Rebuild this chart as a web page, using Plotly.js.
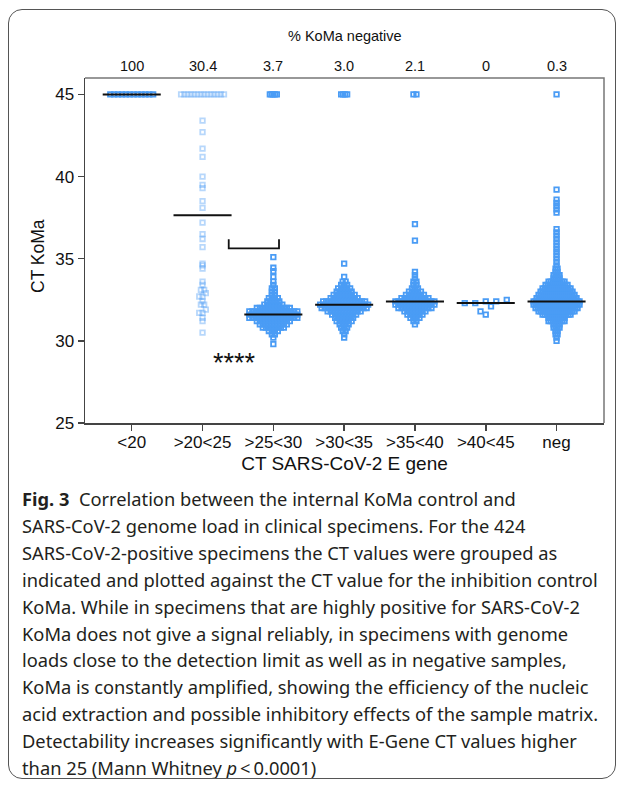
<!DOCTYPE html>
<html>
<head>
<meta charset="utf-8">
<script src="https://cdn.plot.ly/plotly-3.0.1.min.js"></script>
<style>
  html, body { margin: 0; padding: 0; background: #ffffff; }
  #chart { width: 624px; height: 787px; }
  #frame { position: absolute; left: 8px; top: 9px; width: 608px; height: 770px;
           border: 1.5px solid #555; border-radius: 14px; pointer-events: none; box-sizing: border-box; }
</style>
</head>
<body>
<div id="chart"></div>
<div id="frame"></div>
<script>
// ---------------- DATA ----------------
const categories = ['<20', '>20<25', '>25<30', '>30<35', '>35<40', '>40<45', 'neg'];
const pctKoMaNegative = ['100', '30.4', '3.7', '3.0', '2.1', '0', '0.3'];

// KoMa CT levels per E-gene group and the number of specimens at each level
const lt20_ct = [45];
const lt20_n  = [12];

const g20_25_ct = [45, 43.4, 42.7, 41.7, 41.2, 40.0, 39.5, 39.3, 38.5, 38.1,
                   37.2, 36.5, 36.2, 35.7, 34.7, 34.6, 34.4, 33.6, 33.4, 33.1, 32.9,
                   32.7, 32.4, 32.2, 31.9, 31.7, 31.4, 31.2, 30.5];
const g20_25_n  = [14, 1, 1, 1, 1, 1, 1, 1, 1, 1,
                   1, 1, 1, 1, 1, 1, 1, 1, 1, 2, 1,
                   2, 1, 2, 1, 2, 1, 1, 1];

const g25_30_ct = [45, 35.1, 34.45, 34.25, 33.9, 33.6, 33.4, 33.2, 33.0, 32.8, 32.6, 32.4,
                   32.2, 32.0, 31.8, 31.6, 31.4, 31.2, 31.0, 30.8, 30.6, 30.4, 30.2, 29.8];
const g25_30_n  = [5, 1, 1, 1, 1, 1, 1, 2, 2, 2, 4, 5,
                   7, 12, 17, 17, 17, 12, 10, 8, 4, 2, 1, 1];

const g30_35_ct = [45, 34.7, 33.9, 33.6, 33.4, 33.2, 33.0, 32.8, 32.6, 32.4, 32.2,
                   32.0, 31.8, 31.6, 31.4, 31.2, 31.0, 30.8, 30.6, 30.4, 30.2];
const g30_35_n  = [4, 1, 1, 2, 3, 5, 6, 8, 10, 15, 17,
                   16, 12, 9, 7, 6, 4, 3, 2, 1, 1];

const g35_40_ct = [45, 37.1, 36.1, 34.2, 34.0, 33.8, 33.6, 33.4, 33.2, 33.0, 32.8,
                   32.6, 32.4, 32.2, 32.0, 31.8, 31.6, 31.4, 31.2, 31.0];
const g35_40_n  = [2, 1, 1, 1, 1, 1, 2, 2, 3, 5, 7,
                   10, 14, 14, 12, 8, 6, 4, 2, 1];

const g40_45_ct = [32.5, 32.4, 32.3, 32.1, 31.8, 31.6];
const g40_45_n  = [1, 2, 2, 1, 1, 1];

const neg_ct = [45, 39.2, 38.6, 38.4, 38.2, 38.0, 37.8, 36.8, 36.6, 36.4, 36.2, 36.0,
                35.8, 35.6, 35.4, 35.2, 35.0, 34.8, 34.6, 34.4, 34.2, 34.0, 33.8,
                33.6, 33.4, 33.2, 33.0, 32.8, 32.6, 32.4, 32.2, 32.0, 31.8, 31.6,
                31.4, 31.2, 31.0, 30.8, 30.6, 30.4, 30.2, 30.0];
const neg_n  = [1, 1, 1, 1, 1, 1, 1, 1, 1, 1, 1, 1,
                1, 1, 1, 1, 1, 1, 1, 2, 2, 4, 4,
                9, 12, 15, 17, 19, 21, 24, 24, 22, 19, 15,
                9, 9, 4, 4, 2, 2, 1, 1];

const yTicks = [25, 30, 35, 40, 45];
const noSignalCT = 45;

// ---------------- STYLE ----------------
const M = { l: 85, r: 20, t: 78, b: 364 };
const W = 624, H = 787;
const plotW = W - M.l - M.r, plotH = H - M.t - M.b;
const xRange = [-0.66, 6.67];
const yRange = [25, 46];
const pxPerCat = plotW / (xRange[1] - xRange[0]);
const blue = '#4a9cf5';
const groupOpacity = [1, 0.4, 1, 1, 1, 1, 1];
const rowDxPx   = [3.9, 3.3, 3, 3, 3, 10.5, 2];     // horizontal spacing of points in a row
const row45DxPx = [3.9, 3.3, 1.75, 2, 3, 3, 3];     // spacing in the "no signal" row
const rowBin    = [0.2, 0.2, 0.2, 0.2, 0.2, 0.5, 0.2];
const medianHalfWidth = 0.41;
const axisFont = 'Liberation Sans, Arial, Helvetica, sans-serif';

// ---------------- BUILD ----------------
const groupsCT = [lt20_ct, g20_25_ct, g25_30_ct, g30_35_ct, g35_40_ct, g40_45_ct, neg_ct];
const groupsN  = [lt20_n, g20_25_n, g25_30_n, g30_35_n, g35_40_n, g40_45_n, neg_n];

function expand(levels, counts) {
  const out = [];
  levels.forEach((v, i) => { for (let k = 0; k < counts[i]; k++) out.push(v); });
  return out;
}
function median(arr) {
  const s = arr.slice().sort((a, b) => a - b);
  const n = s.length;
  return n % 2 ? s[(n - 1) / 2] : (s[n / 2 - 1] + s[n / 2]) / 2;
}
function swarm(vals, center, g) {
  const rows = new Map();
  vals.forEach(v => {
    const key = Math.round(v / rowBin[g]);
    if (!rows.has(key)) rows.set(key, []);
    rows.get(key).push(v);
  });
  const xs = [], ys = [];
  rows.forEach(arr => {
    arr.sort((a, b) => a - b);
    const k = arr.length;
    const d = (arr[0] === noSignalCT ? row45DxPx[g] : rowDxPx[g]) / pxPerCat;
    arr.forEach((v, j) => { xs.push(center + (j - (k - 1) / 2) * d); ys.push(v); });
  });
  return { xs, ys };
}

const traces = [];
const medX = [], medY = [];
groupsCT.forEach((levels, g) => {
  const vals = expand(levels, groupsN[g]);
  const s = swarm(vals, g, g);
  traces.push({
    type: 'scatter', mode: 'markers', x: s.xs, y: s.ys, hoverinfo: 'skip',
    cliponaxis: false, showlegend: false,
    marker: { symbol: 'square-open', size: 4.5, color: blue, opacity: groupOpacity[g],
              line: { width: 1.8, color: blue } }
  });
  const m = median(vals);
  medX.push(g - medianHalfWidth, g + medianHalfWidth, null);
  medY.push(m, m, null);
});
traces.push({
  type: 'scatter', mode: 'lines', x: medX, y: medY, hoverinfo: 'skip', showlegend: false,
  cliponaxis: false, line: { color: '#111', width: 2 }
});

function pyToPaper(py) { return (H - M.b - py) / plotH; }
function pxToPaper(px) { return (px - M.l) / plotW; }

const annotations = [];
annotations.push({ text: '% KoMa negative', xref: 'paper', yref: 'paper', x: 0.5, y: pyToPaper(36),
  xanchor: 'center', yanchor: 'middle', showarrow: false, font: { family: axisFont, size: 14.5, color: '#111' } });
pctKoMaNegative.forEach((t, i) => annotations.push({ text: t, xref: 'x', yref: 'paper', x: i, y: pyToPaper(66),
  xanchor: 'center', yanchor: 'middle', showarrow: false, font: { family: axisFont, size: 14.5, color: '#111' } }));
annotations.push({ text: '****', xref: 'x', yref: 'y', x: 1.445, y: 28.65, xanchor: 'center', yanchor: 'middle',
  showarrow: false, font: { family: axisFont, size: 27, color: '#111' } });
annotations.push({ text: 'CT KoMa', xref: 'paper', yref: 'paper', x: pxToPaper(38), y: pyToPaper(256),
  xanchor: 'center', yanchor: 'middle', textangle: -90, showarrow: false,
  font: { family: axisFont, size: 17.5, color: '#111' } });

const caption = [
  '<b>Fig. 3</b>\u00a0\u00a0Correlation between the internal KoMa control and',
  'SARS-CoV-2 genome load in clinical specimens. For the 424',
  'SARS-CoV-2-positive specimens the CT values were grouped as',
  'indicated and plotted against the CT value for the inhibition control',
  'KoMa. While in specimens that are highly positive for SARS-CoV-2',
  'KoMa does not give a signal reliably, in specimens with genome',
  'loads close to the detection limit as well as in negative samples,',
  'KoMa is constantly amplified, showing the efficiency of the nucleic',
  'acid extraction and possible inhibitory effects of the sample matrix.',
  'Detectability increases significantly with E-Gene CT values higher',
  'than 25 (Mann Whitney <i>p</i>\u2009<\u20090.0001)'
];
caption.forEach((t, i) => annotations.push({ text: t, xref: 'paper', yref: 'paper',
  x: pxToPaper(20), y: pyToPaper(499 + 26.8 * i), xanchor: 'left', yanchor: 'middle', showarrow: false,
  font: { family: 'Noto Sans, Open Sans, sans-serif', size: 18.3, color: '#231f20' } }));

const layout = {
  width: W, height: H, margin: M, paper_bgcolor: '#fff', plot_bgcolor: '#fff',
  font: { family: axisFont, color: '#111' },
  xaxis: {
    range: xRange, tickvals: categories.map((c, i) => i), ticktext: categories,
    showgrid: false, zeroline: false, showline: true, linecolor: '#444', linewidth: 1.5,
    ticks: 'outside', ticklen: 6, tickwidth: 1.5, tickcolor: '#444', ticklabelstandoff: -3,
    tickfont: { size: 17, family: axisFont, color: '#111' },
    title: { text: 'CT SARS-CoV-2 E gene', font: { size: 19, family: axisFont, color: '#111' }, standoff: 6 }
  },
  yaxis: {
    range: yRange, tickvals: yTicks, showgrid: false, zeroline: false, showline: true,
    linecolor: '#444', linewidth: 1.5, ticks: 'outside', ticklen: 6, tickwidth: 1.5, tickcolor: '#444',
    tickfont: { size: 17, family: axisFont, color: '#111' }
  },
  shapes: [
    { type: 'path', xref: 'paper', yref: 'paper', path: 'M 0 1 L 1 1 L 1 0', line: { color: '#777', width: 1.5 } },
    { type: 'path', xref: 'x', yref: 'y', path: 'M 1.37 36.18 L 1.37 35.63 L 2.08 35.63 L 2.08 36.18',
      line: { color: '#111', width: 1.8 } }
  ],
  annotations: annotations
};

Plotly.newPlot('chart', traces, layout, { displayModeBar: false, staticPlot: true });
</script>
</body>
</html>
